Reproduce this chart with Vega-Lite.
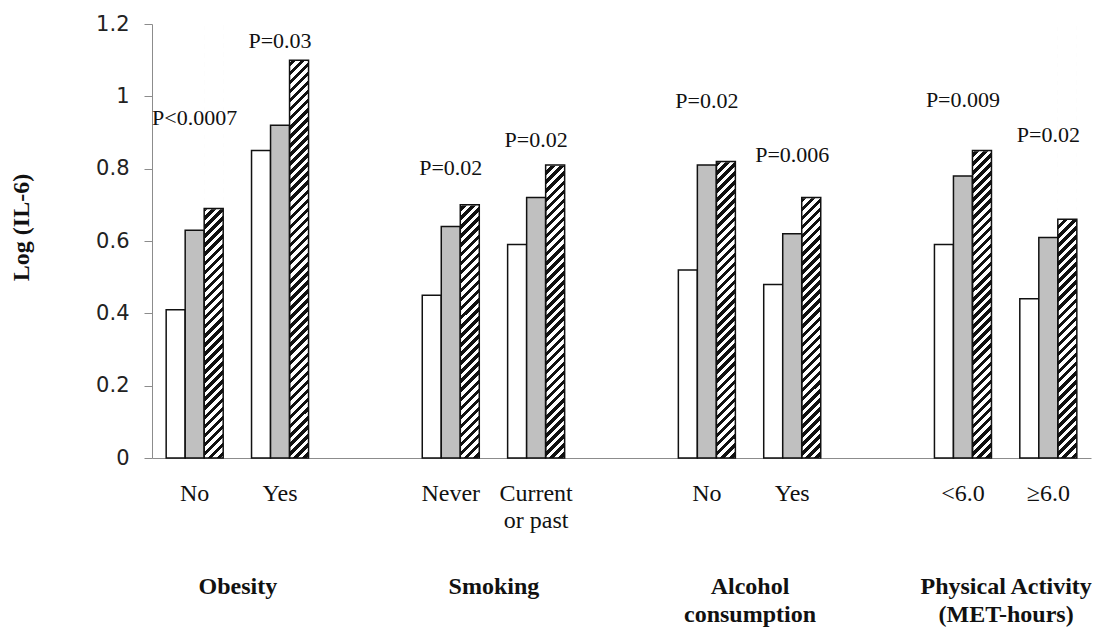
{
  "$schema": "https://vega.github.io/schema/vega-lite/v6.json",
  "width": 939,
  "height": 434,
  "autosize": {"type": "none"},
  "padding": {"left": 152, "top": 24, "right": 6, "bottom": 169},
  "background": "white",
  "config": {
    "view": {"stroke": null},
    "axis": {"grid": false},
    "axisY": {
      "titleFont": "Liberation Serif",
      "titleFontSize": 24,
      "titleFontWeight": "bold",
      "titleColor": "#111",
      "titlePadding": 62,
      "titleY": 203,
      "labelFont": "DejaVu Sans",
      "labelFontSize": 21,
      "labelColor": "#222",
      "labelPadding": 15,
      "tickSize": 8,
      "tickColor": "#8c8c8c",
      "domainColor": "#8c8c8c"
    }
  },
  "datasets": {
    "bars": [
      {"cat": "ob_no", "group": "Obesity", "series": "a", "value": 0.41},
      {"cat": "ob_no", "group": "Obesity", "series": "b", "value": 0.63},
      {"cat": "ob_no", "group": "Obesity", "series": "c", "value": 0.69},
      {"cat": "ob_yes", "group": "Obesity", "series": "a", "value": 0.85},
      {"cat": "ob_yes", "group": "Obesity", "series": "b", "value": 0.92},
      {"cat": "ob_yes", "group": "Obesity", "series": "c", "value": 1.10},
      {"cat": "sm_never", "group": "Smoking", "series": "a", "value": 0.45},
      {"cat": "sm_never", "group": "Smoking", "series": "b", "value": 0.64},
      {"cat": "sm_never", "group": "Smoking", "series": "c", "value": 0.70},
      {"cat": "sm_cur", "group": "Smoking", "series": "a", "value": 0.59},
      {"cat": "sm_cur", "group": "Smoking", "series": "b", "value": 0.72},
      {"cat": "sm_cur", "group": "Smoking", "series": "c", "value": 0.81},
      {"cat": "al_no", "group": "Alcohol|consumption", "series": "a", "value": 0.52},
      {"cat": "al_no", "group": "Alcohol|consumption", "series": "b", "value": 0.81},
      {"cat": "al_no", "group": "Alcohol|consumption", "series": "c", "value": 0.82},
      {"cat": "al_yes", "group": "Alcohol|consumption", "series": "a", "value": 0.48},
      {"cat": "al_yes", "group": "Alcohol|consumption", "series": "b", "value": 0.62},
      {"cat": "al_yes", "group": "Alcohol|consumption", "series": "c", "value": 0.72},
      {"cat": "pa_lt", "group": "Physical Activity|(MET-hours)", "series": "a", "value": 0.59},
      {"cat": "pa_lt", "group": "Physical Activity|(MET-hours)", "series": "b", "value": 0.78},
      {"cat": "pa_lt", "group": "Physical Activity|(MET-hours)", "series": "c", "value": 0.85},
      {"cat": "pa_ge", "group": "Physical Activity|(MET-hours)", "series": "a", "value": 0.44},
      {"cat": "pa_ge", "group": "Physical Activity|(MET-hours)", "series": "b", "value": 0.61},
      {"cat": "pa_ge", "group": "Physical Activity|(MET-hours)", "series": "c", "value": 0.66}
    ],
    "pvals": [
      {"cat": "ob_no", "p": "P<0.0007", "ly": 0.94},
      {"cat": "ob_yes", "p": "P=0.03", "ly": 1.154},
      {"cat": "sm_never", "p": "P=0.02", "ly": 0.802},
      {"cat": "sm_cur", "p": "P=0.02", "ly": 0.878},
      {"cat": "al_no", "p": "P=0.02", "ly": 0.987},
      {"cat": "al_yes", "p": "P=0.006", "ly": 0.839},
      {"cat": "pa_lt", "p": "P=0.009", "ly": 0.991},
      {"cat": "pa_ge", "p": "P=0.02", "ly": 0.892}
    ]
  },
  "layer": [
    {
      "data": {"name": "bars"},
      "encoding": {
        "x": {
          "field": "cat",
          "type": "nominal",
          "scale": {
            "domain": ["ob_no", "ob_yes", "gap1", "sm_never", "sm_cur", "gap2", "al_no", "al_yes", "gap3", "pa_lt", "pa_ge"],
            "paddingInner": 0.332,
            "paddingOuter": 0.166
          },
          "axis": {
            "title": null,
            "orient": "bottom",
            "ticks": false,
            "domain": true,
            "domainColor": "#8c8c8c",
            "domainWidth": 1,
            "labelAngle": 0,
            "labelPadding": 23,
            "labelFont": "Liberation Serif",
            "labelFontSize": 24,
            "labelLineHeight": 27,
            "labelColor": "#111",
            "labelOverlap": false,
            "labelLimit": 0,
            "labelExpr": "datum.value == 'ob_no' || datum.value == 'al_no' ? 'No' : datum.value == 'ob_yes' || datum.value == 'al_yes' ? 'Yes' : datum.value == 'sm_never' ? 'Never' : datum.value == 'sm_cur' ? ['Current', 'or past'] : datum.value == 'pa_lt' ? '<6.0' : datum.value == 'pa_ge' ? '≥6.0' : ''"
          }
        }
      },
      "layer": [
        {
          "transform": [{"filter": "datum.series == 'c'"}],
          "mark": {
            "type": "bar",
            "strokeWidth": 0,
            "fill": {
              "gradient": "linear",
              "x1": 0, "y1": 0, "x2": 0.0456, "y2": 1.0418,
              "stops": [
                {"offset":0,"color":"#fff"},
                {"offset":0.005,"color":"#fff"},{"offset":0.005,"color":"#111"},{"offset":0.015,"color":"#111"},{"offset":0.015,"color":"#fff"},
                {"offset":0.025,"color":"#fff"},{"offset":0.025,"color":"#111"},{"offset":0.035,"color":"#111"},{"offset":0.035,"color":"#fff"},
                {"offset":0.045,"color":"#fff"},{"offset":0.045,"color":"#111"},{"offset":0.055,"color":"#111"},{"offset":0.055,"color":"#fff"},
                {"offset":0.065,"color":"#fff"},{"offset":0.065,"color":"#111"},{"offset":0.075,"color":"#111"},{"offset":0.075,"color":"#fff"},
                {"offset":0.085,"color":"#fff"},{"offset":0.085,"color":"#111"},{"offset":0.095,"color":"#111"},{"offset":0.095,"color":"#fff"},
                {"offset":0.105,"color":"#fff"},{"offset":0.105,"color":"#111"},{"offset":0.115,"color":"#111"},{"offset":0.115,"color":"#fff"},
                {"offset":0.125,"color":"#fff"},{"offset":0.125,"color":"#111"},{"offset":0.135,"color":"#111"},{"offset":0.135,"color":"#fff"},
                {"offset":0.145,"color":"#fff"},{"offset":0.145,"color":"#111"},{"offset":0.155,"color":"#111"},{"offset":0.155,"color":"#fff"},
                {"offset":0.165,"color":"#fff"},{"offset":0.165,"color":"#111"},{"offset":0.175,"color":"#111"},{"offset":0.175,"color":"#fff"},
                {"offset":0.185,"color":"#fff"},{"offset":0.185,"color":"#111"},{"offset":0.195,"color":"#111"},{"offset":0.195,"color":"#fff"},
                {"offset":0.205,"color":"#fff"},{"offset":0.205,"color":"#111"},{"offset":0.215,"color":"#111"},{"offset":0.215,"color":"#fff"},
                {"offset":0.225,"color":"#fff"},{"offset":0.225,"color":"#111"},{"offset":0.235,"color":"#111"},{"offset":0.235,"color":"#fff"},
                {"offset":0.245,"color":"#fff"},{"offset":0.245,"color":"#111"},{"offset":0.255,"color":"#111"},{"offset":0.255,"color":"#fff"},
                {"offset":0.265,"color":"#fff"},{"offset":0.265,"color":"#111"},{"offset":0.275,"color":"#111"},{"offset":0.275,"color":"#fff"},
                {"offset":0.285,"color":"#fff"},{"offset":0.285,"color":"#111"},{"offset":0.295,"color":"#111"},{"offset":0.295,"color":"#fff"},
                {"offset":0.305,"color":"#fff"},{"offset":0.305,"color":"#111"},{"offset":0.315,"color":"#111"},{"offset":0.315,"color":"#fff"},
                {"offset":0.325,"color":"#fff"},{"offset":0.325,"color":"#111"},{"offset":0.335,"color":"#111"},{"offset":0.335,"color":"#fff"},
                {"offset":0.345,"color":"#fff"},{"offset":0.345,"color":"#111"},{"offset":0.355,"color":"#111"},{"offset":0.355,"color":"#fff"},
                {"offset":0.365,"color":"#fff"},{"offset":0.365,"color":"#111"},{"offset":0.375,"color":"#111"},{"offset":0.375,"color":"#fff"},
                {"offset":0.385,"color":"#fff"},{"offset":0.385,"color":"#111"},{"offset":0.395,"color":"#111"},{"offset":0.395,"color":"#fff"},
                {"offset":0.405,"color":"#fff"},{"offset":0.405,"color":"#111"},{"offset":0.415,"color":"#111"},{"offset":0.415,"color":"#fff"},
                {"offset":0.425,"color":"#fff"},{"offset":0.425,"color":"#111"},{"offset":0.435,"color":"#111"},{"offset":0.435,"color":"#fff"},
                {"offset":0.445,"color":"#fff"},{"offset":0.445,"color":"#111"},{"offset":0.455,"color":"#111"},{"offset":0.455,"color":"#fff"},
                {"offset":0.465,"color":"#fff"},{"offset":0.465,"color":"#111"},{"offset":0.475,"color":"#111"},{"offset":0.475,"color":"#fff"},
                {"offset":0.485,"color":"#fff"},{"offset":0.485,"color":"#111"},{"offset":0.495,"color":"#111"},{"offset":0.495,"color":"#fff"},
                {"offset":0.505,"color":"#fff"},{"offset":0.505,"color":"#111"},{"offset":0.515,"color":"#111"},{"offset":0.515,"color":"#fff"},
                {"offset":0.525,"color":"#fff"},{"offset":0.525,"color":"#111"},{"offset":0.535,"color":"#111"},{"offset":0.535,"color":"#fff"},
                {"offset":0.545,"color":"#fff"},{"offset":0.545,"color":"#111"},{"offset":0.555,"color":"#111"},{"offset":0.555,"color":"#fff"},
                {"offset":0.565,"color":"#fff"},{"offset":0.565,"color":"#111"},{"offset":0.575,"color":"#111"},{"offset":0.575,"color":"#fff"},
                {"offset":0.585,"color":"#fff"},{"offset":0.585,"color":"#111"},{"offset":0.595,"color":"#111"},{"offset":0.595,"color":"#fff"},
                {"offset":0.605,"color":"#fff"},{"offset":0.605,"color":"#111"},{"offset":0.615,"color":"#111"},{"offset":0.615,"color":"#fff"},
                {"offset":0.625,"color":"#fff"},{"offset":0.625,"color":"#111"},{"offset":0.635,"color":"#111"},{"offset":0.635,"color":"#fff"},
                {"offset":0.645,"color":"#fff"},{"offset":0.645,"color":"#111"},{"offset":0.655,"color":"#111"},{"offset":0.655,"color":"#fff"},
                {"offset":0.665,"color":"#fff"},{"offset":0.665,"color":"#111"},{"offset":0.675,"color":"#111"},{"offset":0.675,"color":"#fff"},
                {"offset":0.685,"color":"#fff"},{"offset":0.685,"color":"#111"},{"offset":0.695,"color":"#111"},{"offset":0.695,"color":"#fff"},
                {"offset":0.705,"color":"#fff"},{"offset":0.705,"color":"#111"},{"offset":0.715,"color":"#111"},{"offset":0.715,"color":"#fff"},
                {"offset":0.725,"color":"#fff"},{"offset":0.725,"color":"#111"},{"offset":0.735,"color":"#111"},{"offset":0.735,"color":"#fff"},
                {"offset":0.745,"color":"#fff"},{"offset":0.745,"color":"#111"},{"offset":0.755,"color":"#111"},{"offset":0.755,"color":"#fff"},
                {"offset":0.765,"color":"#fff"},{"offset":0.765,"color":"#111"},{"offset":0.775,"color":"#111"},{"offset":0.775,"color":"#fff"},
                {"offset":0.785,"color":"#fff"},{"offset":0.785,"color":"#111"},{"offset":0.795,"color":"#111"},{"offset":0.795,"color":"#fff"},
                {"offset":0.805,"color":"#fff"},{"offset":0.805,"color":"#111"},{"offset":0.815,"color":"#111"},{"offset":0.815,"color":"#fff"},
                {"offset":0.825,"color":"#fff"},{"offset":0.825,"color":"#111"},{"offset":0.835,"color":"#111"},{"offset":0.835,"color":"#fff"},
                {"offset":0.845,"color":"#fff"},{"offset":0.845,"color":"#111"},{"offset":0.855,"color":"#111"},{"offset":0.855,"color":"#fff"},
                {"offset":0.865,"color":"#fff"},{"offset":0.865,"color":"#111"},{"offset":0.875,"color":"#111"},{"offset":0.875,"color":"#fff"},
                {"offset":0.885,"color":"#fff"},{"offset":0.885,"color":"#111"},{"offset":0.895,"color":"#111"},{"offset":0.895,"color":"#fff"},
                {"offset":0.905,"color":"#fff"},{"offset":0.905,"color":"#111"},{"offset":0.915,"color":"#111"},{"offset":0.915,"color":"#fff"},
                {"offset":0.925,"color":"#fff"},{"offset":0.925,"color":"#111"},{"offset":0.935,"color":"#111"},{"offset":0.935,"color":"#fff"},
                {"offset":0.945,"color":"#fff"},{"offset":0.945,"color":"#111"},{"offset":0.955,"color":"#111"},{"offset":0.955,"color":"#fff"},
                {"offset":0.965,"color":"#fff"},{"offset":0.965,"color":"#111"},{"offset":0.975,"color":"#111"},{"offset":0.975,"color":"#fff"},
                {"offset":0.985,"color":"#fff"},{"offset":0.985,"color":"#111"},{"offset":0.995,"color":"#111"},{"offset":0.995,"color":"#fff"},
                {"offset":1,"color":"#fff"}
              ]
            }
          },
          "encoding": {
            "xOffset": {"field": "series", "type": "nominal", "scale": {"domain": ["a", "b", "c"], "paddingInner": 0, "paddingOuter": 0}},
            "y": {"datum": 1.2, "type": "quantitative", "axis": {"title": "Log (IL-6)", "values": [0, 0.2, 0.4, 0.6, 0.8, 1, 1.2], "format": "~g"}},
            "y2": {"datum": 0}
          }
        },
        {
          "transform": [{"filter": "datum.series == 'c'"}],
          "mark": {"type": "bar", "fill": "#ffffff", "stroke": "#ffffff", "strokeWidth": 1.5},
          "encoding": {
            "xOffset": {"field": "series", "type": "nominal", "scale": {"domain": ["a", "b", "c"], "paddingInner": 0, "paddingOuter": 0}},
            "y": {"field": "value", "type": "quantitative", "axis": {"title": "Log (IL-6)", "values": [0, 0.2, 0.4, 0.6, 0.8, 1, 1.2], "format": "~g"}},
            "y2": {"datum": 1.2}
          }
        },
        {
          "mark": {"type": "bar", "stroke": "#111111", "strokeWidth": 1.5},
          "encoding": {
            "xOffset": {"field": "series", "type": "nominal", "scale": {"domain": ["a", "b", "c"], "paddingInner": 0, "paddingOuter": 0}},
            "y": {
              "field": "value",
              "type": "quantitative",
              "scale": {"domain": [0, 1.2], "nice": false, "zero": true},
              "axis": {"title": "Log (IL-6)", "values": [0, 0.2, 0.4, 0.6, 0.8, 1, 1.2], "format": "~g"}
            },
            "fill": {
              "field": "series",
              "type": "nominal",
              "scale": {"domain": ["a", "b", "c"], "range": ["#ffffff", "#c0c0c0", "transparent"]},
              "legend": null
            }
          }
        },
        {
          "data": {"name": "pvals"},
          "mark": {"type": "text", "font": "Liberation Serif", "fontSize": 22, "color": "#111", "align": "center", "baseline": "middle"},
          "encoding": {
            "y": {"field": "ly", "type": "quantitative", "axis": {"title": "Log (IL-6)", "values": [0, 0.2, 0.4, 0.6, 0.8, 1, 1.2], "format": "~g"}},
            "text": {"field": "p"}
          }
        }
      ]
    },
    {
      "data": {"name": "bars"},
      "mark": {"type": "text", "text": "", "opacity": 0},
      "encoding": {
        "x": {
          "field": "group",
          "type": "nominal",
          "scale": {"type": "point", "domain": ["Obesity", "Smoking", "Alcohol|consumption", "Physical Activity|(MET-hours)"], "padding": 0.33333},
          "axis": {
            "title": null,
            "orient": "bottom",
            "ticks": false,
            "domain": false,
            "labelAngle": 0,
            "labelPadding": 116,
            "labelFont": "Liberation Serif",
            "labelFontSize": 24,
            "labelFontWeight": "bold",
            "labelLineHeight": 28,
            "labelColor": "#111",
            "labelOverlap": false,
            "labelLimit": 0,
            "labelExpr": "split(datum.label, '|')"
          }
        }
      }
    }
  ],
  "resolve": {"scale": {"x": "independent"}, "axis": {"x": "independent"}}
}
